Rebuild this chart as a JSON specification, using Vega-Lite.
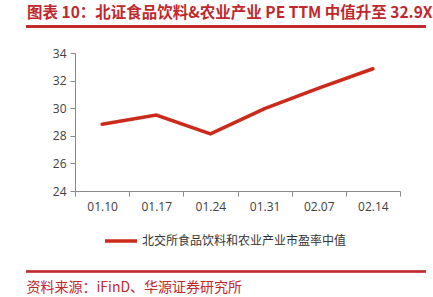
{
  "$schema": "https://vega.github.io/schema/vega-lite/v6.json",
  "autosize": "none",
  "width": 325,
  "height": 138,
  "padding": {"left": 75, "top": 53, "right": 33, "bottom": 106},
  "background": "white",
  "config": {"view": {"stroke": null}},
  "title": {
    "text": "图表 10：北证食品饮料&农业产业 PE TTM 中值升至 32.9X",
    "anchor": "start",
    "frame": "group",
    "dx": -48,
    "offset": 4,
    "limit": 0,
    "font": "Noto Sans CJK SC",
    "fontSize": 15.5,
    "fontWeight": "bold",
    "color": "#C0282D"
  },
  "data": {
    "values": [
      {"date": "01.10", "pe": 28.84, "series": "北交所食品饮料和农业产业市盈率中值"},
      {"date": "01.17", "pe": 29.5, "series": "北交所食品饮料和农业产业市盈率中值"},
      {"date": "01.24", "pe": 28.14, "series": "北交所食品饮料和农业产业市盈率中值"},
      {"date": "01.31", "pe": 29.97, "series": "北交所食品饮料和农业产业市盈率中值"},
      {"date": "02.07", "pe": 31.46, "series": "北交所食品饮料和农业产业市盈率中值"},
      {"date": "02.14", "pe": 32.86, "series": "北交所食品饮料和农业产业市盈率中值"}
    ]
  },
  "layer": [
    {
      "mark": {"type": "line", "strokeWidth": 3.5, "strokeCap": "round"},
      "encoding": {
        "x": {
          "field": "date",
          "type": "ordinal",
          "bandPosition": 0.5,
          "scale": {"type": "band", "paddingInner": 0, "paddingOuter": 0},
          "axis": {
            "tickBand": "extent",
            "labelAngle": 0,
            "labelFont": "Open Sans",
            "labelFontSize": 12,
            "labelColor": "#404040",
            "labelPadding": 5,
            "domainColor": "#888888",
            "tickColor": "#888888",
            "tickSize": 5,
            "grid": false,
            "title": "资料来源：iFinD、华源证券研究所",
            "titleX": -49,
            "titleY": 89,
            "titleAlign": "left",
            "titleBaseline": "top",
            "titleFont": "Noto Sans CJK SC",
            "titleFontSize": 14,
            "titleFontWeight": "normal",
            "titleColor": "#C0282D"
          }
        },
        "y": {
          "field": "pe",
          "type": "quantitative",
          "scale": {"domain": [24, 34], "nice": false, "zero": false},
          "axis": {
            "values": [24, 26, 28, 30, 32, 34],
            "labelOverlap": false,
            "grid": false,
            "title": null,
            "labelFont": "Open Sans",
            "labelFontSize": 12,
            "labelColor": "#404040",
            "labelPadding": 4,
            "domainColor": "#888888",
            "tickColor": "#888888",
            "tickSize": 5
          }
        },
        "color": {
          "field": "series",
          "type": "nominal",
          "scale": {"range": ["#CC2A1B"]},
          "legend": {
            "title": null,
            "orient": "none",
            "legendX": 28,
            "legendY": 170,
            "symbolType": "stroke",
            "symbolSize": 1024,
            "symbolStrokeWidth": 3.5,
            "labelFont": "Noto Sans CJK SC",
            "labelFontSize": 12,
            "labelLimit": 400,
            "labelColor": "#333333",
            "labelOffset": 3
          }
        }
      }
    },
    {
      "mark": {"type": "rule", "strokeWidth": 2, "color": "#C0282D", "clip": false},
      "encoding": {
        "x": {"datum": -49, "type": "quantitative", "scale": {"domain": [0, 325]}, "axis": null},
        "x2": {"datum": 351},
        "y": {"datum": 35.92, "type": "quantitative", "scale": {"domain": [24, 34], "nice": false, "zero": false}, "axis": null}
      }
    },
    {
      "mark": {"type": "rule", "strokeWidth": 1.5, "color": "#C0282D", "clip": false},
      "encoding": {
        "x": {"datum": -49, "type": "quantitative", "scale": {"domain": [0, 325]}, "axis": null},
        "x2": {"datum": 351},
        "y": {"datum": 18.17, "type": "quantitative", "scale": {"domain": [24, 34], "nice": false, "zero": false}, "axis": null}
      }
    }
  ],
  "resolve": {"scale": {"x": "independent", "y": "independent"}, "axis": {"x": "independent", "y": "independent"}}
}
